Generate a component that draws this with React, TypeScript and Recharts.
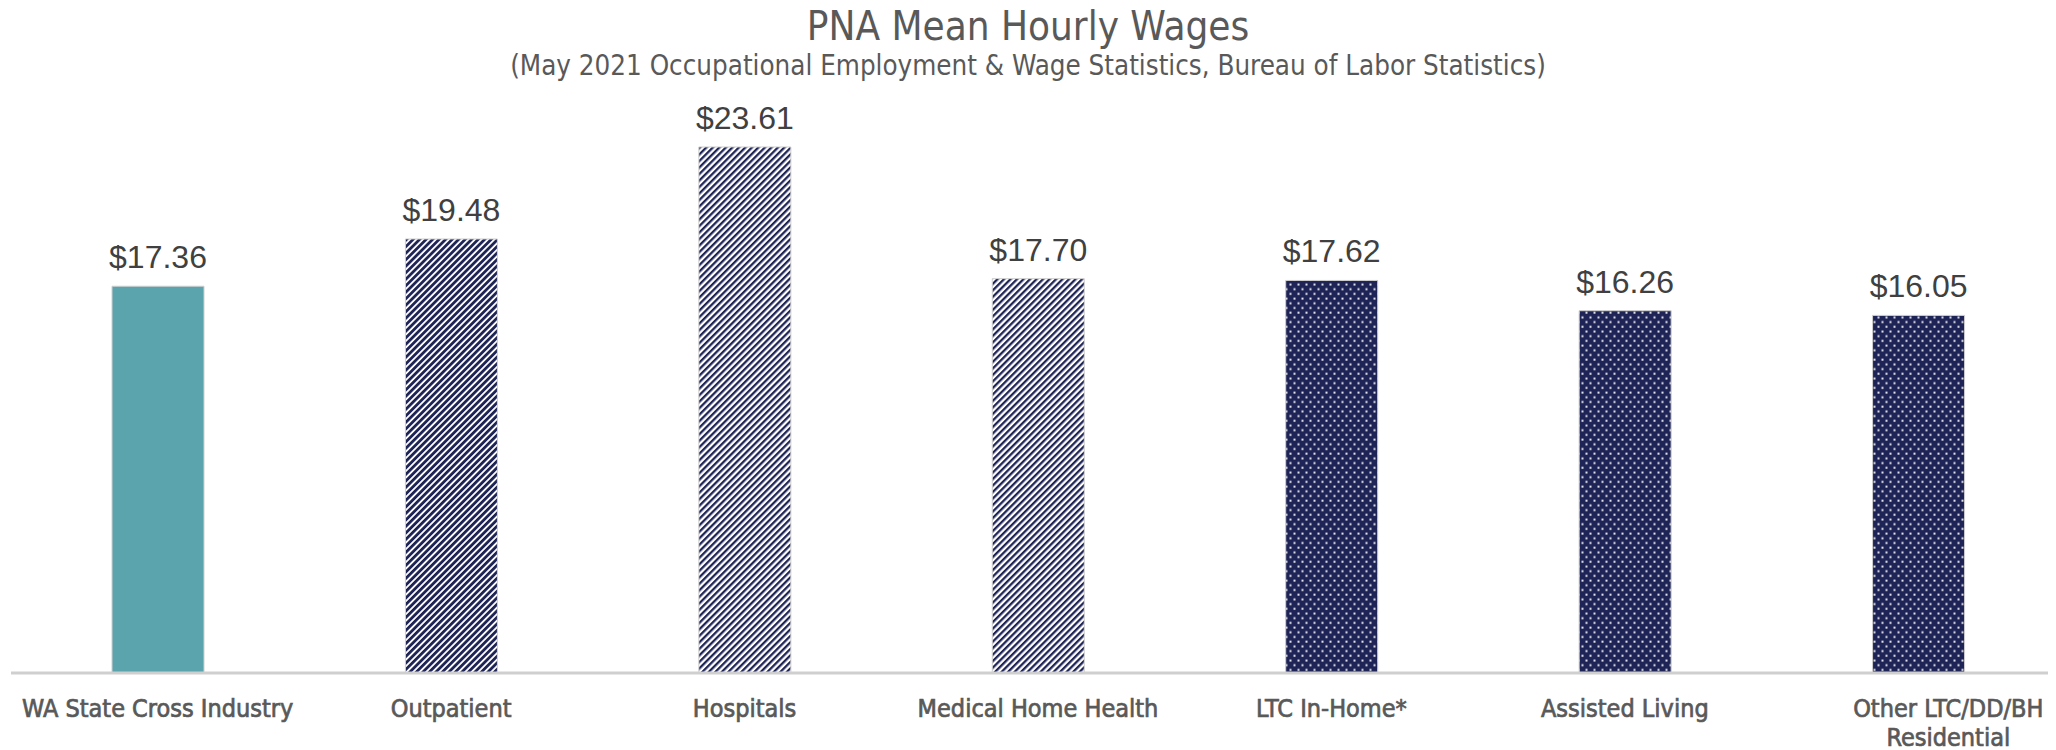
import { BarChart, Bar, XAxis, YAxis, Cell, LabelList } from "recharts";

const categories = [
  "WA State Cross Industry",
  "Outpatient",
  "Hospitals",
  "Medical Home Health",
  "LTC In-Home*",
  "Assisted Living",
  "Other LTC/DD/BH Residential",
];
const wages = [17.36, 19.48, 23.61, 17.7, 17.62, 16.26, 16.05];
const fills = ["solid", "stripeDark", "stripe", "stripe", "dots", "dots", "dots"];

const NAVY = "#1f2456";
const TEAL = "#5ba3ad";
const NARROW = "'DejaVu Sans Condensed', 'Liberation Sans Narrow', sans-serif";

const data = categories.map((name, i) => ({ name, wage: wages[i], fill: fills[i] }));

function fillFor(kind: string) {
  if (kind === "solid") return TEAL;
  return `url(#${kind})`;
}

function CategoryTick({ x, y, payload }: any) {
  const label: string = payload.value;
  const lines = label === "Other LTC/DD/BH Residential" ? ["Other LTC/DD/BH", "Residential"] : [label];
  const dx = lines.length > 1 ? 30 : 0;
  return (
    <text
      x={x + dx}
      y={y}
      textAnchor="middle"
      fill="#595959"
      stroke="#595959"
      strokeWidth={0.7}
      fontFamily={NARROW}
      fontSize={25}
    >
      {lines.map((l, i) => (
        <tspan key={i} x={x + dx} dy={i === 0 ? 36 : 29}>
          {l}
        </tspan>
      ))}
    </text>
  );
}

export default function App() {
  return (
    <div
      style={{
        position: "relative",
        marginLeft: -8,
        marginTop: -8,
        width: 2056,
        height: 750,
        overflow: "hidden",
        background: "#fff",
      }}
    >
      <div
        style={{
          position: "absolute",
          top: 3,
          left: 0,
          width: 2056,
          textAlign: "center",
          fontFamily: NARROW,
          color: "#595959",
        }}
      >
        <div style={{ fontSize: 40, lineHeight: "46px" }}>PNA Mean Hourly Wages</div>
        <div style={{ fontSize: 27.5, lineHeight: "32px" }}>
          (May 2021 Occupational Employment &amp; Wage Statistics, Bureau of Labor Statistics)
        </div>
      </div>
      <div style={{ position: "absolute", top: 0, left: 0 }}>
        <BarChart
          width={2066}
          height={750}
          data={data}
          margin={{ top: 116, right: 1, bottom: 0, left: 11 }}
          barCategoryGap={0}
        >
          <defs>
            <pattern
              id="stripeDark"
              patternUnits="userSpaceOnUse"
              width={4.6}
              height={4.6}
              patternTransform="rotate(45)"
            >
              <rect width={4.6} height={4.6} fill="#fff" />
              <rect width={2.8} height={4.6} fill={NAVY} />
            </pattern>
            <pattern
              id="stripe"
              patternUnits="userSpaceOnUse"
              width={4.6}
              height={4.6}
              patternTransform="rotate(45)"
            >
              <rect width={4.6} height={4.6} fill="#fff" />
              <rect width={2.3} height={4.6} fill={NAVY} />
            </pattern>
            <pattern id="dots" patternUnits="userSpaceOnUse" width={8} height={9.4}>
              <rect width={8} height={9.4} fill={NAVY} />
              <rect x={1.5} y={1.5} width={2} height={2} fill="#e4e5ee" />
              <rect x={5.5} y={6.2} width={2} height={2} fill="#e4e5ee" />
            </pattern>
          </defs>
          <XAxis
            dataKey="name"
            interval={0}
            height={77}
            tickLine={false}
            axisLine={{ stroke: "#cfcfcf", strokeWidth: 3 }}
            tick={<CategoryTick />}
          />
          <YAxis hide domain={[0, 25]} />
          <Bar dataKey="wage" barSize={92} isAnimationActive={false} stroke="#cfcfcf" strokeWidth={1}>
            {data.map((d, i) => (
              <Cell key={i} fill={fillFor(d.fill)} />
            ))}
            <LabelList
              dataKey="wage"
              position="top"
              offset={18}
              fill="#404040"
              fontSize={32}
              fontFamily="'Liberation Sans', Arial, sans-serif"
              formatter={(v: any) => `$${Number(v).toFixed(2)}`}
            />
          </Bar>
        </BarChart>
      </div>
    </div>
  );
}
